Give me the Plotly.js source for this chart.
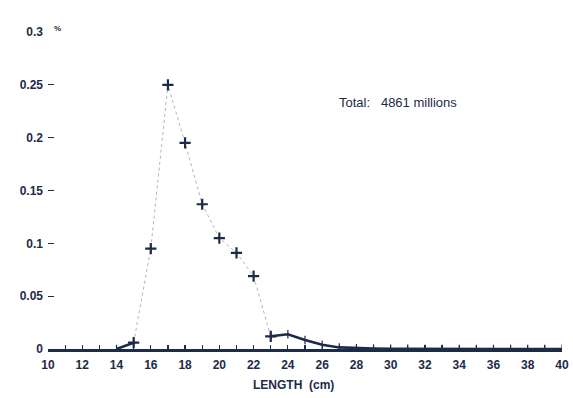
<!DOCTYPE html>
<html>
<head>
<meta charset="utf-8">
<script src="https://cdn.plot.ly/plotly-3.0.1.min.js"></script>
<style>html,body{margin:0;padding:0;background:#fff;}#chart{width:573px;height:398px;}</style>
</head>
<body>
<div id="chart"></div>
<script>
// Main distribution (dotted line with cross markers), length in cm vs share (%)
var mainLength = [15, 16, 17, 18, 19, 20, 21, 22, 23];
var mainShare  = [0.006, 0.095, 0.25, 0.195, 0.137, 0.105, 0.091, 0.069, 0.012];

// Tail / second curve (solid thick line)
var tailLength = [14, 15, 16, 17, 18, 19, 20, 21, 22, 23, 24, 25, 26, 27, 28, 29, 30, 31, 32, 33, 34, 35, 36, 37, 38, 39, 40];
var tailShare  = [0, 0.006, null, null, null, null, null, null, null, 0.012, 0.014, 0.0085, 0.004, 0.0015, 0.0008, 0.0005, 0.0003, 0.0002, 0, 0, 0, 0, 0, 0, 0, 0, 0];

var xTicks = [10, 12, 14, 16, 18, 20, 22, 24, 26, 28, 30, 32, 34, 36, 38, 40];
var yTicks = [0, 0.05, 0.1, 0.15, 0.2, 0.25, 0.3];
var totalLabel = "Total:   4861 millions";

var ink = "#1d2a48";
var fam = "Liberation Sans, Arial, sans-serif";
var fnt = {family: fam, size: 12, color: ink, weight: "bold"};

var traces = [
  {
    x: mainLength, y: mainShare, type: "scatter", mode: "lines+markers",
    line: {color: "#b4b4b4", width: 1, dash: "dot"},
    marker: {symbol: "cross-thin-open", size: 8, line: {color: ink, width: 2.2}, color: ink},
    hoverinfo: "x+y"
  },
  {
    x: tailLength, y: tailShare, type: "scatter", mode: "lines+markers",
    connectgaps: false,
    line: {color: ink, width: 2.6},
    marker: {symbol: "line-ns-open", size: 6, line: {color: ink, width: 1.2}},
    hoverinfo: "x+y"
  }
];

var layout = {
  width: 573, height: 398,
  margin: {l: 48, r: 11, t: 32, b: 49},
  paper_bgcolor: "#ffffff", plot_bgcolor: "#ffffff",
  showlegend: false,
  font: fnt,
  xaxis: {
    range: [10, 40], tickvals: xTicks, ticktext: xTicks.map(String),
    showgrid: false, zeroline: false,
    showline: true, linecolor: ink, linewidth: 2.5,
    ticks: "inside", ticklen: 4, tickwidth: 1.2, tickcolor: ink,
    minor: {dtick: 1, ticks: "inside", ticklen: 4, tickwidth: 1.2, tickcolor: ink, showgrid: false},
    tickfont: fnt, ticklabelstandoff: 3
  },
  yaxis: {
    range: [0, 0.3], tickvals: yTicks,
    showgrid: false, zeroline: false, showline: false,
    ticks: "inside", ticklen: 6, tickwidth: 1.2, tickcolor: ink,
    tickfont: fnt, ticklabelstandoff: 4
  },
  annotations: [
    {text: totalLabel, x: 30.44, y: 0.233, xref: "x", yref: "y", showarrow: false,
     font: {family: fam, size: 13, color: ink, weight: "normal"}},
    {text: "LENGTH  (cm)", x: 0.478, y: -0.115, xref: "paper", yref: "paper", showarrow: false,
     yanchor: "middle", font: {family: fam, size: 12, color: ink, weight: "bold"}},
    {text: "%", x: (52 - 48) / (573 - 48 - 11), y: 1 + (32 - 22) / (398 - 32 - 49),
     xref: "paper", yref: "paper", showarrow: false,
     font: {family: fam, size: 8, color: ink, weight: "bold"}}
  ]
};

Plotly.newPlot("chart", traces, layout, {displayModeBar: false, staticPlot: true});
</script>
</body>
</html>
